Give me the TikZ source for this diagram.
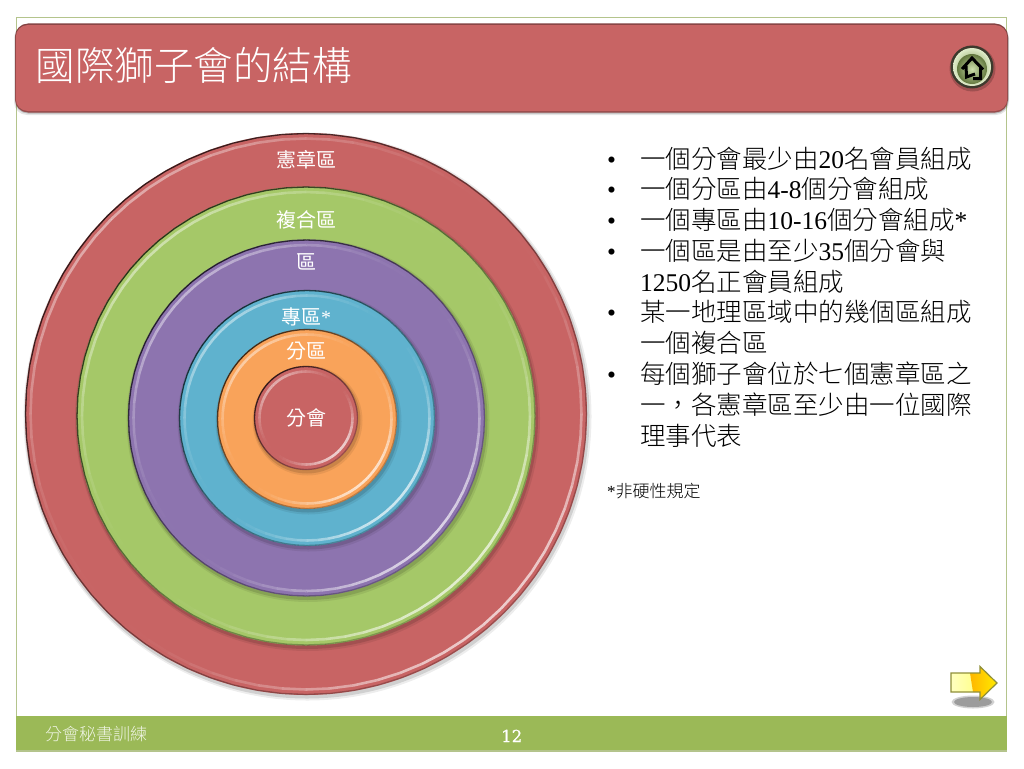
\documentclass[tikz,border=0pt]{standalone}
\usepackage{fontspec}
\setmainfont{Liberation Serif}
\newfontfamily\cjk{Noto Sans CJK TC Light}
\newfontfamily\cjkreg{Noto Sans CJK TC}
\newfontfamily\pagefont[FakeBold=0.6]{DejaVu Serif}
\definecolor{framegreen}{HTML}{B4C48C}
\definecolor{footgreen}{HTML}{9BB957}
\definecolor{barred}{HTML}{C86464}
\definecolor{discred}{HTML}{C86464}
\definecolor{discgreen}{HTML}{A5C868}
\definecolor{discpurple}{HTML}{8D74AF}
\definecolor{disccyan}{HTML}{5FB2CE}
\definecolor{discorange}{HTML}{F9A35A}
\definecolor{arrowrim}{HTML}{8F8F3A}
\tikzset{
  bodyline/.style={anchor=base west,inner sep=0pt,text=black,font=\fontsize{25.5}{30}\selectfont},
  bulletmark/.style={anchor=base west,inner sep=0pt,text=black,font=\fontsize{25.5}{30}\selectfont},
  ringlabel/.style={anchor=center,inner sep=0pt,text=white,font=\fontsize{20}{24}\selectfont},
}
% disc: cx, cy, r, base colour
\newcommand\bevdisc[4]{%
  \fill[black,opacity=.07] (#1+1.5,#2+2.5) circle[radius=#3+3];
  \fill[black,opacity=.12] (#1+1,#2+2) circle[radius=#3+1.5];
  \fill[#4] (#1,#2) circle[radius=#3];
  \foreach \a in {0,5,...,355}{%
    \pgfmathsetmacro{\c}{cos(\a+2.5-45)}%
    \pgfmathsetmacro{\hl}{\c>0 ? 0.68*\c*\c : 0.45*\c*\c}%
    \pgfmathsetmacro{\dk}{\c<0 ? 0.42-0.33*\c : 0.42-0.2*\c}%
    \draw[white,line width=2.6pt,opacity=\hl]
      ({#1+(#3-5.5)*cos(\a)},{#2+(#3-5.5)*sin(\a)}) -- ({#1+(#3-5.5)*cos(\a+5)},{#2+(#3-5.5)*sin(\a+5)});
    \draw[black,line width=1.3pt,opacity=\dk]
      ({#1+(#3-.5)*cos(\a)},{#2+(#3-.5)*sin(\a)}) -- ({#1+(#3-.5)*cos(\a+5)},{#2+(#3-.5)*sin(\a+5)});
  }
}
\begin{document}
\begin{tikzpicture}[x=1pt,y=-1pt]
\useasboundingbox (0,0) rectangle (1024,768);
\fill[white] (0,0) rectangle (1024,768);
% frame and footer
\draw[framegreen,line width=1.2pt] (16.5,17.5) rectangle (1006.5,751);
\fill[footgreen] (16,716) rectangle (1007,751);
\fill[framegreen] (16,749.5) rectangle (1007,751.5);
% title bar
\fill[black,opacity=.10,rounded corners=13pt] (14,25) rectangle (1009,115);
\fill[black,opacity=.20,rounded corners=13pt] (15,25) rectangle (1008.5,113.5);
\shade[top color=barred!65!black,bottom color=barred!75!black,rounded corners=13pt] (15,23.5) rectangle (1008,112.5);
\fill[barred,rounded corners=12pt] (15.8,25) rectangle (1007.2,111);
\node[anchor=base west,inner sep=0pt,text=white,font=\fontsize{39.5}{44}\selectfont\cjk] (title) at (35.5,81) {國際獅子會的結構};
% home button
\fill[black,opacity=.2] (972.5,68.5) circle[radius=23];
\fill[black!75!olive] (972,67) circle[radius=21.5];
\shade[inner color=discgreen!75!black,outer color=discgreen!35!white] (972,67) circle[radius=19];
\shade[inner color=discgreen!55!white,outer color=discgreen!60!black] (972,69) circle[radius=15];
\draw[black,line width=3pt,line join=miter] (962,69) -- (972,58) -- (983,69.5) (980.5,66) -- (980.5,78.5) -- (973,78.5) (975,74) -- (966.5,77) -- (966,66);
% discs
\bevdisc{306}{414}{281}{discred}
\bevdisc{306}{416}{229.5}{discgreen}
\bevdisc{306.5}{418}{178.5}{discpurple}
\bevdisc{307}{418}{128}{disccyan}
\bevdisc{307}{419}{90}{discorange}
\bevdisc{306}{418}{52}{discred}
\node[ringlabel] (l1) at (306,160) {\cjkreg 憲章區};
\node[ringlabel] (l2) at (306,220) {\cjkreg 複合區};
\node[ringlabel] (l3) at (306,262) {\cjkreg 區};
\node[ringlabel] (l4) at (306,317) {\cjkreg 專區\rmfamily *};
\node[ringlabel] (l5) at (306,351) {\cjkreg 分區};
\node[ringlabel] (l6) at (306,418) {\cjkreg 分會};
% bullet text
\node[bulletmark] (b1) at (607,168) {•};
\node[bodyline] (t1) at (640,168) {\cjk 一個分會最少由{\rmfamily 20}名會員組成};
\node[bulletmark] (b2) at (607,198.7) {•};
\node[bodyline] (t2) at (640,198.7) {\cjk 一個分區由{\rmfamily 4-8}個分會組成};
\node[bulletmark] (b3) at (607,229.5) {•};
\node[bodyline] (t3) at (640,229.5) {\cjk 一個專區由{\rmfamily 10-16}個分會組成{\rmfamily *}};
\node[bulletmark] (b4) at (607,260.3) {•};
\node[bodyline] (t4) at (640,260.3) {\cjk 一個區是由至少{\rmfamily 35}個分會與};
\node[bodyline] (t4b) at (640,291) {{\rmfamily 1250}\cjk 名正會員組成};
\node[bulletmark] (b5) at (607,321.8) {•};
\node[bodyline] (t5) at (640,321.8) {\cjk 某一地理區域中的幾個區組成};
\node[bodyline] (t5b) at (640,352.6) {\cjk 一個複合區};
\node[bulletmark] (b6) at (607,383.4) {•};
\node[bodyline] (t6) at (640,383.4) {\cjk 每個獅子會位於七個憲章區之};
\node[bodyline] (t6b) at (640,414.2) {\cjk 一，各憲章區至少由一位國際};
\node[bodyline] (t6c) at (640,445) {\cjk 理事代表};
\node[anchor=base west,inner sep=0pt,text=black,font=\fontsize{17}{20}\selectfont] (note) at (607,497) {*\cjk 非硬性規定};
% next arrow
\fill[black,opacity=.18] (973,702) ellipse[x radius=21.5,y radius=6.5];
\fill[black,opacity=.25] (973,702) ellipse[x radius=19,y radius=5];
\begin{scope}
  \clip (951,673) -- (980,673) -- (980,666.5) -- (997,683) -- (980,699.5) -- (980,692) -- (951,692) -- cycle;
  \shade[left color=yellow!25!white,right color=yellow!45!white] (951,660) rectangle (975,705);
  \shade[left color=orange!60!yellow,right color=yellow!85!orange] (968,660) -- (998,660) -- (998,705) -- (975,705) -- cycle;
\end{scope}
\draw[arrowrim,line width=1.2pt,line join=miter]
  (951,673) -- (980,673) -- (980,666.5) -- (997,683) -- (980,699.5) -- (980,692) -- (951,692) -- cycle;
% footer text
\node[anchor=base west,inner sep=0pt,text=white!85!footgreen,font=\fontsize{17}{20}\selectfont\cjk] (foot) at (45,740) {分會秘書訓練};
\node[anchor=base west,inner sep=0pt,text=white,font=\fontsize{16.5}{20}\selectfont\pagefont] (page) at (501,742) {12};
\end{tikzpicture}
\end{document}
